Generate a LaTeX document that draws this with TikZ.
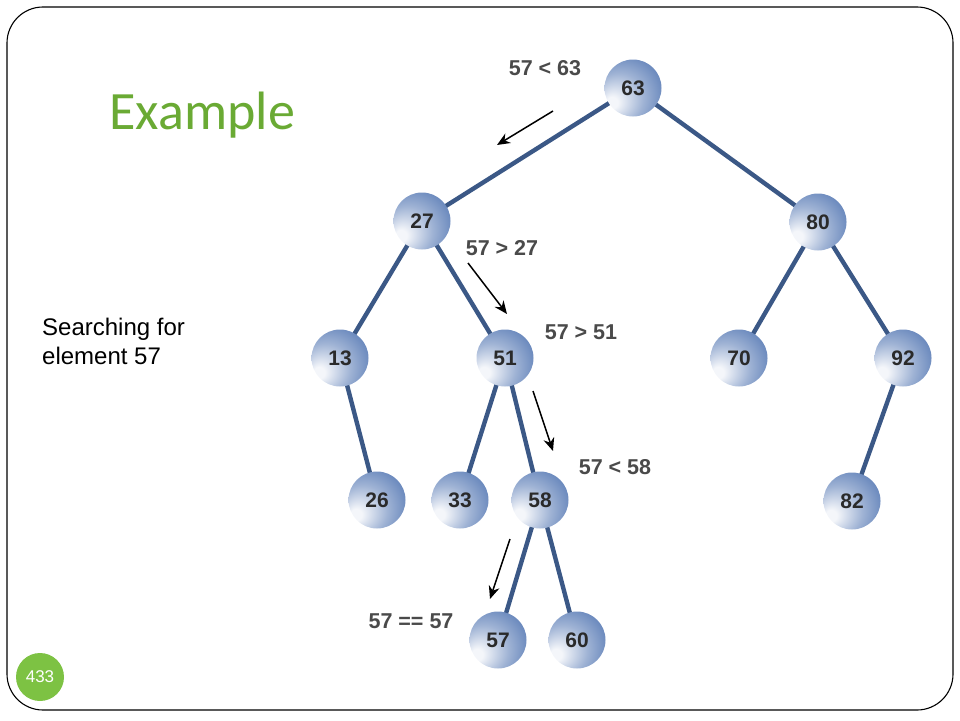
\documentclass[tikz,border=0pt]{standalone}
\usepackage{fontspec}
\setmainfont{Liberation Sans}
\newfontfamily\titlefont{Carlito}
\usetikzlibrary{backgrounds,arrows.meta}
\definecolor{sphdark}{HTML}{2B4A85}
\definecolor{sphmid}{HTML}{5F80B8}
\definecolor{sphlight}{HTML}{F4F6FA}
\definecolor{edgeblue}{HTML}{3B5886}
\definecolor{titlegreen}{HTML}{6AAA34}
\definecolor{pagegreen}{HTML}{7DC243}
\definecolor{numgray}{HTML}{2A2A2A}
\pgfdeclareradialshading{sphereshade}{\pgfpoint{-20bp}{-14bp}}{%
  color(0bp)=(sphlight); color(5bp)=(sphlight); color(22bp)=(sphmid!60!white);
  color(38bp)=(sphmid); color(50bp)=(sphdark); color(60bp)=(sphdark)}
\tikzset{
  bstnode/.style={circle, minimum size=57pt, inner sep=0pt, shading=sphereshade,
    font=\fontsize{21}{21}\selectfont\bfseries, text=numgray},
  treeedge/.style={draw=edgeblue, line width=4.4pt},
  steparrow/.style={draw=black, line width=1.5pt, -{Stealth[length=13pt,width=11pt]}},
  cmplabel/.style={font=\fontsize{21.5}{21.5}\selectfont\bfseries, text=numgray!85!white, inner sep=0pt}
}
\begin{document}
\begin{tikzpicture}[x=1pt,y=-1pt]
\useasboundingbox (0,0) rectangle (960,720);
\draw[line width=1.1pt, rounded corners=36pt] (7,7) rectangle (953,710);

\node[text=titlegreen, font=\titlefont\fontsize{54}{54}\selectfont, anchor=base west] (title) at (106,129) {Example};
\node[font=\fontsize{24}{29}\selectfont, align=left, anchor=north west, inner sep=0pt] (desc) at (42,318) {Searching for\\element 57};

\node[circle, fill=pagegreen, minimum size=48pt, inner sep=0pt, text=white, font=\fontsize{17}{17}\selectfont] (page) at (40,677) {433};

% tree nodes
\node[bstnode] (n63) at (633,88) {63};
\node[bstnode] (n27) at (422,221) {27};
\node[bstnode] (n80) at (818,222) {80};
\node[bstnode] (n13) at (340,358) {13};
\node[bstnode] (n51) at (505,358) {51};
\node[bstnode] (n70) at (739,358) {70};
\node[bstnode] (n92) at (903,358) {92};
\node[bstnode] (n26) at (377,500) {26};
\node[bstnode] (n33) at (460,500) {33};
\node[bstnode] (n58) at (540,500) {58};
\node[bstnode] (n82) at (852,501) {82};
\node[bstnode] (n57) at (498,640) {57};
\node[bstnode] (n60) at (577,640) {60};

\begin{scope}[on background layer]
\draw[treeedge] (n63.center) -- (n27.center);
\draw[treeedge] (n63.center) -- (n80.center);
\draw[treeedge] (n27.center) -- (n13.center);
\draw[treeedge] (n27.center) -- (n51.center);
\draw[treeedge] (n80.center) -- (n70.center);
\draw[treeedge] (n80.center) -- (n92.center);
\draw[treeedge] (n13.center) -- (n26.center);
\draw[treeedge] (n51.center) -- (n33.center);
\draw[treeedge] (n51.center) -- (n58.center);
\draw[treeedge] (n92.center) -- (n82.center);
\draw[treeedge] (n58.center) -- (n57.center);
\draw[treeedge] (n58.center) -- (n60.center);
\end{scope}

% comparison labels
\node[cmplabel] (c1) at (545,68) {57 < 63};
\node[cmplabel] (c2) at (502,248) {57 > 27};
\node[cmplabel] (c3) at (581,332) {57 > 51};
\node[cmplabel] (c4) at (615,467) {57 < 58};
\node[cmplabel] (c5) at (411,621) {57 == 57};

% step arrows
\coordinate (a1s) at (553,111); \coordinate (a1e) at (497,145);
\coordinate (a2s) at (468,263); \coordinate (a2e) at (507,314);
\coordinate (a3s) at (533,391); \coordinate (a3e) at (553,451);
\coordinate (a4s) at (510,539); \coordinate (a4e) at (490,599);
\draw[steparrow] (a1s) -- (a1e);
\draw[steparrow] (a2s) -- (a2e);
\draw[steparrow] (a3s) -- (a3e);
\draw[steparrow] (a4s) -- (a4e);
\end{tikzpicture}
\end{document}
